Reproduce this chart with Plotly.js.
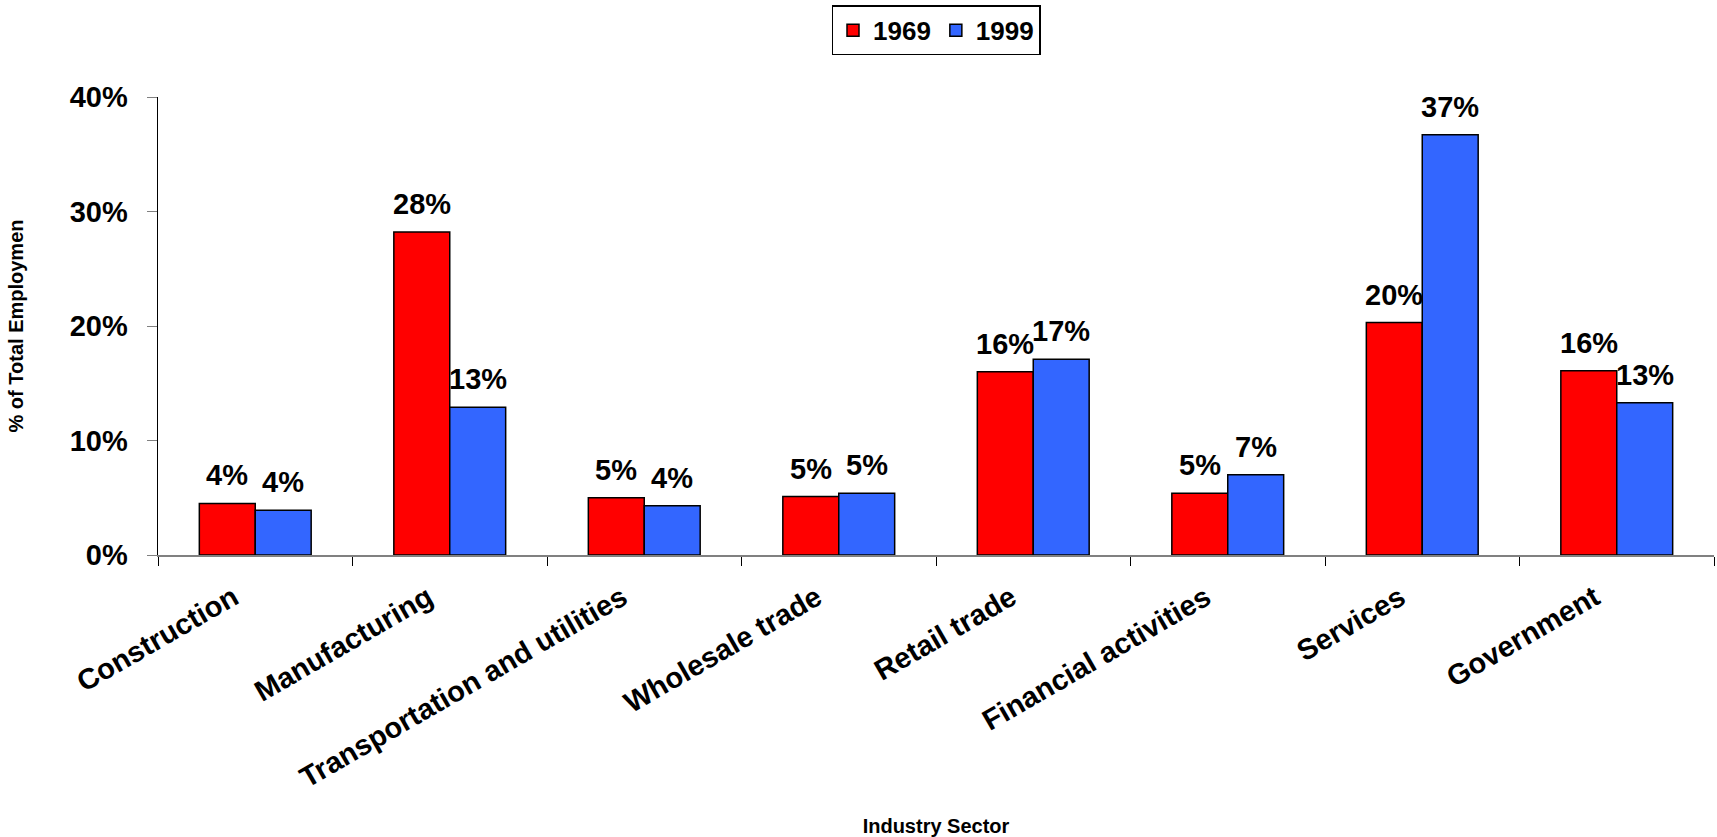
<!DOCTYPE html>
<html>
<head>
<meta charset="utf-8">
<script src="https://cdn.plot.ly/plotly-3.0.1.min.js"></script>
<style>html,body{margin:0;padding:0;background:#fff;}#chart{width:1717px;height:837px;}</style>
</head>
<body>
<div id="chart"></div>
<script>
const categories = ["Construction","Manufacturing","Transportation and utilities","Wholesale trade","Retail trade","Financial activities","Services","Government"];
const values1969 = [4.5, 28.2, 5.0, 5.1, 16.0, 5.4, 20.3, 16.1];
const values1999 = [3.9, 12.9, 4.3, 5.4, 17.1, 7.0, 36.7, 13.3];
const labels1969 = ["4%","28%","5%","5%","16%","5%","20%","16%"];
const labels1999 = ["4%","13%","4%","5%","17%","7%","37%","13%"];
const yTicks = [0,10,20,30,40];
const yTickText = ["0%","10%","20%","30%","40%"];

const FONT = "Liberation Sans, Arial, sans-serif";
const W = 1717, H = 837;
const M = {l: 158, r: 3, t: 97, b: 282, autoexpand: false};
const BARGAP = 0.425;

const data = [
  {type: "bar", name: "1969", x: categories, y: values1969, hoverinfo: "skip",
   marker: {color: "#FF0000", line: {color: "#000", width: 1.5}}},
  {type: "bar", name: "1999", x: categories, y: values1999, hoverinfo: "skip",
   marker: {color: "#3366FF", line: {color: "#000", width: 1.5}}}
];

// value labels placed above each bar via annotations on the data axes
const catW = (W - M.l - M.r) / categories.length;
const barOffset = catW * (1 - BARGAP) / 4;
const annotations = [];
categories.forEach((c, i) => {
  annotations.push({x: c, y: values1969[i], xref: "x", yref: "y", text: labels1969[i],
    showarrow: false, xshift: -barOffset, yshift: 10, yanchor: "bottom",
    font: {family: FONT, size: 29, color: "#000", weight: "bold"}});
  annotations.push({x: c, y: values1999[i], xref: "x", yref: "y", text: labels1999[i],
    showarrow: false, xshift: barOffset, yshift: 10, yanchor: "bottom",
    font: {family: FONT, size: 29, color: "#000", weight: "bold"}});
});

const layout = {
  width: W, height: H,
  paper_bgcolor: "#fff", plot_bgcolor: "#fff",
  margin: M,
  font: {family: FONT, color: "#000", weight: "bold"},
  barmode: "group", bargap: BARGAP, bargroupgap: 0,
  showlegend: true,
  legend: {orientation: "h", x: 0.5, xanchor: "center", y: 1.2, yanchor: "top",
    bordercolor: "#000", borderwidth: 1.5, font: {family: FONT, size: 26, weight: "bold"},
    itemwidth: 30, tracegroupgap: 0},
  annotations: annotations,
  xaxis: {
    type: "category", tickson: "boundaries", ticks: "outside", ticklen: 9, tickcolor: "#000",
    showline: true, linecolor: "#808080", linewidth: 1.5, showgrid: false, zeroline: false,
    tickangle: -30, tickfont: {family: FONT, size: 29, weight: "bold"},
    ticklabelstandoff: 13, ticklabelshift: -22,
    automargin: false,
    title: {text: "Industry Sector", font: {family: FONT, size: 20, weight: "bold"}, standoff: 31}
  },
  yaxis: {
    range: [0, 40], tickvals: yTicks, ticktext: yTickText, ticks: "outside", ticklen: 10,
    tickcolor: "#808080", showline: true, linecolor: "#000", linewidth: 1.5,
    showgrid: false, zeroline: false, ticklabelstandoff: 13,
    tickfont: {family: FONT, size: 29, weight: "bold"}, automargin: false,
    title: {text: "% of Total Employmen", font: {family: FONT, size: 20, weight: "bold"}, standoff: 40}
  }
};
Plotly.newPlot("chart", data, layout, {staticPlot: true, displayModeBar: false});
</script>
</body>
</html>
